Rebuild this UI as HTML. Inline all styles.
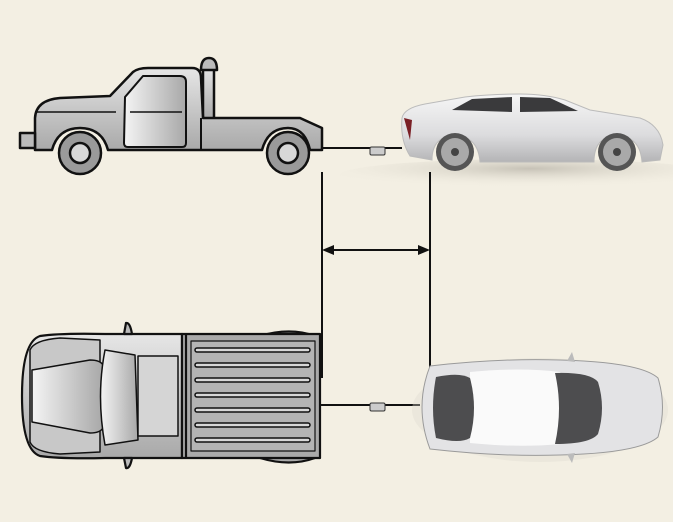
<!DOCTYPE html>
<html><head><style>
html,body{margin:0;padding:0;background:#f3efe3;}
svg{display:block;}
</style></head><body>
<svg width="673" height="522" viewBox="0 0 673 522" xmlns="http://www.w3.org/2000/svg">
<defs>
<linearGradient id="g1" x1="0" y1="0" x2="0" y2="1"><stop offset="0" stop-color="#e6e6e6"/><stop offset="1" stop-color="#a9a9a9"/></linearGradient>
<linearGradient id="g2" x1="0" y1="0" x2="1" y2="0"><stop offset="0" stop-color="#f4f4f4"/><stop offset="1" stop-color="#a8a8a8"/></linearGradient>
<linearGradient id="car" x1="0" y1="0" x2="0" y2="1"><stop offset="0" stop-color="#f6f6f6"/><stop offset="0.6" stop-color="#dcdcde"/><stop offset="1" stop-color="#b4b4b6"/></linearGradient>
<radialGradient id="sh" cx="0.5" cy="0.3" r="0.6"><stop offset="0" stop-color="#9a958a" stop-opacity="0.5"/><stop offset="1" stop-color="#f3efe3" stop-opacity="0"/></radialGradient>
</defs>
<rect width="673" height="522" fill="#f3efe3"/>

<!-- TOW TRUCK side -->
<g stroke="#111" stroke-width="2.5" stroke-linejoin="round">
<rect x="203" y="66" width="11" height="54" fill="url(#g1)"/>
<path d="M201 70 Q201 58 209 58 Q217 58 217 70 Z" fill="#bbb"/>
<path d="M35 118 Q36 100 60 98 L110 96 L133 72 Q138 68 148 68 L192 68 Q201 68 201 78 L203 118 L300 118 L322 128 L322 150 L310 150 Q305 128 288 128 Q268 128 262 150 L108 150 Q102 128 80 128 Q58 128 52 150 L35 150 Z" fill="url(#g1)"/>
<path d="M20 133 L35 133 L35 148 L20 148 Z" fill="#bbb"/>
<path d="M125 97 L143 76 L180 76 Q186 76 186 82 L186 143 Q186 147 182 147 L128 147 Q124 147 124 143 Z" fill="url(#g2)" stroke-width="2"/>
<line x1="201" y1="118" x2="201" y2="150" stroke-width="2"/>
<line x1="35" y1="112" x2="116" y2="112" stroke-width="1.5"/>
<line x1="130" y1="112" x2="182" y2="112" stroke-width="1.5"/>
<circle cx="80" cy="153" r="21" fill="#9a9a9a"/>
<circle cx="80" cy="153" r="10" fill="#d8d8d8"/>
<circle cx="288" cy="153" r="21" fill="#9a9a9a"/>
<circle cx="288" cy="153" r="10" fill="#d8d8d8"/>
</g>
<line x1="322" y1="148" x2="402" y2="148" stroke="#111" stroke-width="2"/>
<rect x="370" y="147" width="15" height="8" rx="1.5" fill="#ccc" stroke="#333" stroke-width="1"/>

<!-- SEDAN side -->
<ellipse cx="530" cy="175" rx="190" ry="16" fill="url(#sh)"/>
<path d="M402 118 Q404 108 425 104 L465 97 Q490 94 520 94 Q545 94 565 100 L590 110 L640 118 Q660 125 663 145 L660 160 L642 162 Q640 136 617 136 Q594 136 594 162 L480 162 Q478 136 455 136 Q432 136 432 160 L410 156 Q400 140 402 118 Z" fill="url(#car)" stroke="#bbb" stroke-width="1"/>
<path d="M452 110 L472 99 L512 97 L512 112 Z" fill="#3a3a3c"/>
<path d="M520 97 L550 98 L578 111 L520 112 Z" fill="#3a3a3c"/>
<path d="M404 118 L412 120 L410 140 Z" fill="#7a1f25"/>
<circle cx="455" cy="152" r="19" fill="#555"/><circle cx="455" cy="152" r="14" fill="#a9a9a9"/><circle cx="455" cy="152" r="4" fill="#444"/>
<circle cx="617" cy="152" r="19" fill="#555"/><circle cx="617" cy="152" r="14" fill="#a9a9a9"/><circle cx="617" cy="152" r="4" fill="#444"/>

<!-- dimension lines -->
<g stroke="#111" stroke-width="2">
<line x1="322" y1="172" x2="322" y2="378"/>
<line x1="430" y1="172" x2="430" y2="372"/>
<line x1="330" y1="250" x2="422" y2="250"/>
</g>
<path d="M322 250 L334 245 L334 255 Z" fill="#111"/>
<path d="M430 250 L418 245 L418 255 Z" fill="#111"/>

<!-- TRUCK top -->
<g stroke="#111" stroke-width="2.2" stroke-linejoin="round">
<path d="M260 336 Q290 327 315 336 L315 458 Q290 467 260 458 Z" fill="#aaa"/>
<path d="M40 336 Q60 333 105 334 L182 334 L182 458 L105 458 Q60 459 40 456 Q22 450 22 396 Q22 342 40 336 Z" fill="url(#g1)"/>
<path d="M30 350 Q34 340 60 338 L100 340 L100 452 L60 454 Q34 452 30 442 Z" fill="#c8c8c8" stroke-width="1.5"/>
<path d="M32 370 L90 360 Q100 360 103 365 L103 428 Q100 433 90 433 L32 422 Z" fill="url(#g2)" stroke-width="1.5"/>
<path d="M105 350 L135 355 L138 440 L105 445 Q96 396 105 350 Z" fill="url(#g2)" stroke-width="1.5"/>
<path d="M138 356 L178 356 L178 436 L138 436 Z" fill="#d5d5d5" stroke-width="1.5"/>
<path d="M124 334 L126 323 Q130 322 132 334 Z" fill="#bbb"/>
<path d="M124 458 L126 468 Q130 469 132 458 Z" fill="#bbb"/>
<rect x="182" y="334" width="138" height="124" fill="#aaa"/>
<line x1="186" y1="334" x2="186" y2="458"/>
<rect x="191" y="341" width="124" height="110" fill="#b4b4b4" stroke-width="1.2"/>
</g>
<g fill="#d8d8d8" stroke="#111" stroke-width="1.5">
<rect x="195" y="348" width="115" height="4" rx="2"/>
<rect x="195" y="363" width="115" height="4" rx="2"/>
<rect x="195" y="378" width="115" height="4" rx="2"/>
<rect x="195" y="393" width="115" height="4" rx="2"/>
<rect x="195" y="408" width="115" height="4" rx="2"/>
<rect x="195" y="423" width="115" height="4" rx="2"/>
<rect x="195" y="438" width="115" height="4" rx="2"/>
</g>
<line x1="320" y1="405" x2="420" y2="405" stroke="#111" stroke-width="2"/>
<rect x="370" y="403" width="15" height="8" rx="1.5" fill="#ccc" stroke="#333" stroke-width="1"/>

<!-- CAR top -->
<ellipse cx="540" cy="410" rx="128" ry="52" fill="#ddd9cd" opacity="0.35"/>
<path d="M430 366 Q500 358 560 360 Q640 362 658 378 Q667 407 658 437 Q640 453 560 455 Q500 457 430 449 Q414 407 430 366 Z" fill="#e3e3e5" stroke="#9a9a9a" stroke-width="1"/>
<path d="M470 372 Q520 367 560 372 L570 385 L570 432 L560 444 Q520 448 470 443 Z" fill="#fafafa"/>
<path d="M436 377 Q460 372 470 378 Q478 408 470 438 Q460 444 436 438 Q430 408 436 377 Z" fill="#4d4d4f"/>
<path d="M555 373 Q590 372 598 382 Q606 408 598 434 Q590 444 555 444 Q563 408 555 373 Z" fill="#4d4d4f"/>
<path d="M567 361 L572 352 L575 362 Z" fill="#bbb"/>
<path d="M567 454 L572 463 L575 453 Z" fill="#bbb"/>
</svg>
</body></html>
